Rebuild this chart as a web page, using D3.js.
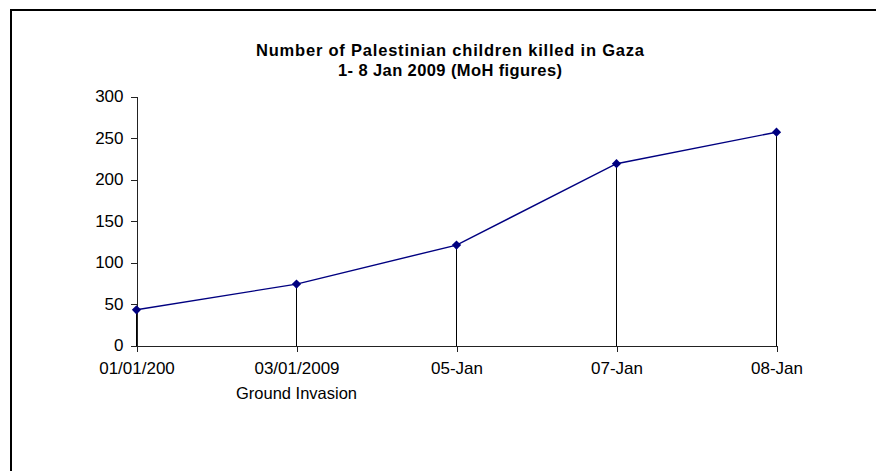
<!DOCTYPE html>
<html>
<head>
<meta charset="utf-8">
<script src="https://cdn.jsdelivr.net/npm/d3@7"></script>
<style>
  body { margin: 0; background: #fff; }
  svg { display: block; font-family: Arial, "Liberation Sans", sans-serif; }
</style>
</head>
<body>
<svg id="chart" width="876" height="471"></svg>
<script>
// data
var dates = ["01/01/200", "03/01/2009", "05-Jan", "07-Jan", "08-Jan"];
var killed = [43, 74, 121, 219, 257];
var yTicks = [0, 50, 100, 150, 200, 250, 300];
var titleLines = ["Number of Palestinian children killed in Gaza", "1- 8 Jan 2009 (MoH figures)"];
var note = "Ground Invasion";

var svg = d3.select("#chart");

// frame (only top and left edges visible)
svg.append("path")
    .attr("d", "M11,471 V10 H876")
    .attr("fill", "none")
    .attr("stroke", "#000")
    .attr("stroke-width", 2);

var x = d3.scalePoint().domain(dates).range([136.5, 776.5]).padding(0);
var y = d3.scaleLinear().domain([0, 300]).range([345.5, 96.5]);

var points = dates.map(function(d, i) { return {date: d, value: killed[i]}; });

// title
var title = svg.append("text")
    .attr("text-anchor", "middle")
    .attr("font-weight", "bold")
    .attr("font-size", 16.5)
    .attr("fill", "#000");
var titleWidths = [388, 224];
titleLines.forEach(function(t, i) {
    title.append("tspan")
        .attr("x", 450)
        .attr("y", 56 + i * 20)
        .attr("textLength", titleWidths[i])
        .attr("lengthAdjust", "spacing")
        .text(t);
});

// axes
var yAxis = svg.append("g")
    .attr("transform", "translate(136.5,0)")
    .call(d3.axisLeft(y).tickValues(yTicks).tickSize(6).tickPadding(7).tickSizeOuter(0));

var xAxis = svg.append("g")
    .attr("transform", "translate(0,345.5)")
    .call(d3.axisBottom(x).tickSize(6).tickPadding(10).tickSizeOuter(0));

[yAxis, xAxis].forEach(function(a) {
    a.select(".domain").attr("stroke", "#222").attr("shape-rendering", "crispEdges");
    a.selectAll(".tick line").attr("stroke", "#222").attr("shape-rendering", "crispEdges");
    a.selectAll("text")
        .attr("font-family", "Arial, 'Liberation Sans', sans-serif")
        .attr("font-size", 17)
        .attr("fill", "#000");
});

// note under the second date
svg.append("text")
    .attr("x", x(dates[1]))
    .attr("y", 399)
    .attr("text-anchor", "middle")
    .attr("font-size", 16.5)
    .attr("fill", "#000")
    .text(note);

// drop lines from each point to the axis
svg.append("g").selectAll("line")
    .data(points)
    .join("line")
    .attr("x1", function(d) { return x(d.date); })
    .attr("x2", function(d) { return x(d.date); })
    .attr("y1", function(d) { return y(d.value); })
    .attr("y2", y(0))
    .attr("stroke", "#000")
    .attr("stroke-width", 1)
    .attr("shape-rendering", "crispEdges");

// series line
var line = d3.line()
    .x(function(d) { return x(d.date); })
    .y(function(d) { return y(d.value); });

svg.append("path")
    .datum(points)
    .attr("d", line)
    .attr("fill", "none")
    .attr("stroke", "#000080")
    .attr("stroke-width", 1.4);

// diamond markers
svg.append("g").selectAll("path")
    .data(points)
    .join("path")
    .attr("transform", function(d) { return "translate(" + x(d.date) + "," + y(d.value) + ")"; })
    .attr("d", d3.symbol().type(d3.symbolDiamond2).size(55))
    .attr("fill", "#000080");
</script>
</body>
</html>
